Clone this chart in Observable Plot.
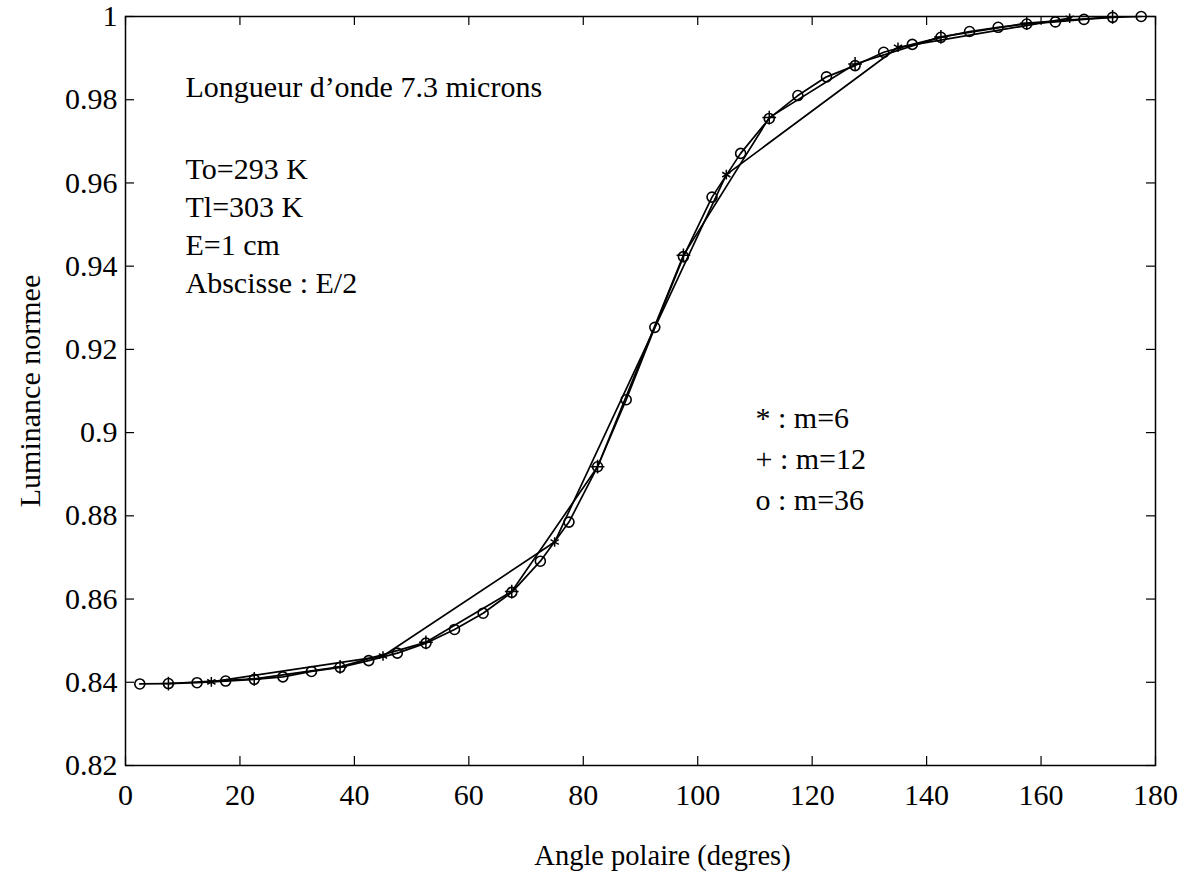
<!DOCTYPE html>
<html><head><meta charset="utf-8">
<script src="https://cdn.jsdelivr.net/npm/d3@7"></script>
<script src="https://cdn.jsdelivr.net/npm/@observablehq/plot@0.6"></script>
<style>body{margin:0;background:#fff} svg{display:block} svg text{font-family:"Liberation Serif","Times New Roman",serif !important;}</style>
</head><body><div id="chart"></div>
<script>
// m = 36 (circles)
const angles36 = [2.5,7.5,12.5,17.5,22.5,27.5,32.5,37.5,42.5,47.5,52.5,57.5,62.5,67.5,72.5,77.5,82.5,87.5,
  92.5,97.5,102.5,107.5,112.5,117.5,122.5,127.5,132.5,137.5,142.5,147.5,152.5,157.5,162.5,167.5,172.5,177.5];
const lum36 = [0.8396,0.8397,0.8399,0.8403,0.8407,0.8413,0.8426,0.8436,0.8452,0.8470,0.8494,0.8527,0.8566,0.8616,0.8691,0.8785,0.8918,0.9079,
  0.9253,0.9423,0.9566,0.9671,0.9755,0.9810,0.9855,0.9882,0.9914,0.9933,0.9950,0.9964,0.9974,0.9982,0.9987,0.9993,0.9998,1.0000];
// m = 12 (plus)
const angles12 = [7.5,22.5,37.5,52.5,67.5,82.5,97.5,112.5,127.5,142.5,157.5,172.5];
const lum12 = [0.8397,0.8408,0.8437,0.8496,0.8618,0.8918,0.9426,0.9757,0.9886,0.9951,0.9984,0.9999];
// m = 6 (asterisk)
const angles6 = [15,45,75,105,135,165];
const lum6 = [0.8401,0.8463,0.8737,0.9620,0.9926,0.9996];

const xTicks = [0,20,40,60,80,100,120,140,160,180];
const yTicks = [0.82,0.84,0.86,0.88,0.9,0.92,0.94,0.96,0.98,1];
const xLabel = "Angle polaire (degres)";
const yLabel = "Luminance normee";
const infoLines = ["Longueur d’onde 7.3 microns","To=293 K","Tl=303 K","E=1 cm","Abscisse : E/2"];
const legendLines = ["* : m=6","+ : m=12","o : m=36"];

const toRows = (xs, ys) => xs.map((a, i) => ({angle: a, lum: ys[i]}));
const s36 = toRows(angles36, lum36), s12 = toRows(angles12, lum12), s6 = toRows(angles6, lum6);

const W = 1184, H = 873, mL = 125, mR = 29, mT = 16, mB = 108;
const iw = W - mL - mR, ih = H - mT - mB, tk = 9;
const infoDy = [71, 153, 191, 229, 267];
const legendDy = [402, 443, 484];

const marks = [
  Plot.frame({stroke: "black", strokeWidth: 1.5}),
  Plot.tickX(xTicks, {x: d => d, insetTop: ih - tk, stroke: "black", strokeWidth: 1.2}),
  Plot.tickX(xTicks, {x: d => d, insetBottom: ih - tk, stroke: "black", strokeWidth: 1.2}),
  Plot.tickY(yTicks, {y: d => d, insetRight: iw - tk, stroke: "black", strokeWidth: 1.2}),
  Plot.tickY(yTicks, {y: d => d, insetLeft: iw - tk, stroke: "black", strokeWidth: 1.2}),
  Plot.axisX({ticks: xTicks, tickSize: 0, tickPadding: 18, label: null}),
  Plot.axisY({ticks: yTicks, tickSize: 0, tickPadding: 8, label: null, tickFormat: d => String(+d.toFixed(2))}),
  Plot.line(s6, {x: "angle", y: "lum", stroke: "black", strokeWidth: 1.7}),
  Plot.line(s12, {x: "angle", y: "lum", stroke: "black", strokeWidth: 1.7}),
  Plot.line(s36, {x: "angle", y: "lum", stroke: "black", strokeWidth: 1.7}),
  Plot.dot(s36, {x: "angle", y: "lum", symbol: "circle", r: 5, stroke: "black", fill: "none", strokeWidth: 1.6}),
  Plot.dot(s12, {x: "angle", y: "lum", symbol: "plus", r: 4.5, stroke: "black", strokeWidth: 1.5}),
  Plot.dot(s6, {x: "angle", y: "lum", symbol: "asterisk", r: 4.5, stroke: "black", strokeWidth: 1.5}),
  Plot.text([xLabel], {text: d => d, frameAnchor: "bottom", dx: 22, dy: 90, textAnchor: "middle", lineAnchor: "middle", fontSize: 28.5}),
  Plot.text([yLabel], {text: d => d, frameAnchor: "left", dx: -95, rotate: -90, textAnchor: "middle", lineAnchor: "middle"})
];
infoLines.forEach((t, i) => marks.push(Plot.text([t], {text: d => d, frameAnchor: "top-left", dx: 60, dy: infoDy[i], textAnchor: "start", lineAnchor: "middle"})));
legendLines.forEach((t, i) => marks.push(Plot.text([t], {text: d => d, frameAnchor: "top-left", dx: 630, dy: legendDy[i], textAnchor: "start", lineAnchor: "middle"})));

const chart = Plot.plot({
  width: W, height: H,
  marginLeft: mL, marginRight: mR, marginTop: mT, marginBottom: mB,
  x: {domain: [0, 180]},
  y: {domain: [0.82, 1]},
  style: {fontFamily: "'Liberation Serif', 'Times New Roman', serif", fontSize: "30px", color: "black", background: "white"},
  marks
});
document.getElementById("chart").appendChild(chart);
</script>
</body></html>
